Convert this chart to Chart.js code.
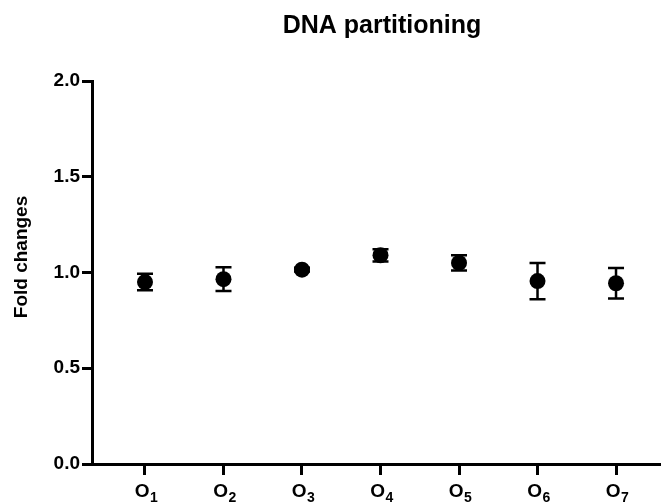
<!DOCTYPE html>
<html>
<head>
<meta charset="utf-8">
<script src="https://cdn.jsdelivr.net/npm/chart.js@4/dist/chart.umd.min.js"></script>
<style>
html,body{margin:0;padding:0;background:#fff;}
#wrap{width:661px;height:504px;}
</style>
</head>
<body>
<div id="wrap"><canvas id="c" width="661" height="504"></canvas></div>
<script>
// ---- data ----
const categories = ["O1","O2","O3","O4","O5","O6","O7"];
const labelBase = ["O","O","O","O","O","O","O"];
const labelSub = ["1","2","3","4","5","6","7"];
const foldMeans = [0.950, 0.965, 1.015, 1.090, 1.050, 0.955, 0.944];
const foldErrors = [0.043, 0.062, 0.010, 0.032, 0.040, 0.095, 0.080];
const yTicks = [0.0, 0.5, 1.0, 1.5, 2.0];
const chartTitle = "DNA partitioning";
const yTitle = "Fold changes";

const FONT = "'Liberation Sans', Arial, Helvetica, sans-serif";

const points = categories.map((c, i) => ({x: i + 1, y: foldMeans[i]}));

const errorBars = {
  id: 'errorBars',
  beforeDatasetsDraw(chart) {
    const ctx = chart.ctx, xs = chart.scales.x, ys = chart.scales.y;
    ctx.save();
    ctx.strokeStyle = '#000';
    ctx.lineWidth = 2.5;
    categories.forEach((c, i) => {
      const px = xs.getPixelForValue(i + 1);
      const top = ys.getPixelForValue(foldMeans[i] + foldErrors[i]);
      const bot = ys.getPixelForValue(foldMeans[i] - foldErrors[i]);
      ctx.beginPath();
      ctx.moveTo(px, top); ctx.lineTo(px, bot);
      ctx.moveTo(px - 8, top); ctx.lineTo(px + 8, top);
      ctx.moveTo(px - 8, bot); ctx.lineTo(px + 8, bot);
      ctx.stroke();
    });
    ctx.restore();
  }
};

const texts = {
  id: 'texts',
  afterDraw(chart) {
    const ctx = chart.ctx, xs = chart.scales.x;
    ctx.save();
    ctx.fillStyle = '#000';
    // title
    ctx.font = "bold 25px " + FONT;
    ctx.textAlign = 'center';
    ctx.textBaseline = 'alphabetic';
    ctx.fillText(chartTitle, 382, 33);
    // y title
    ctx.save();
    ctx.translate(22, 257);
    ctx.rotate(-Math.PI / 2);
    ctx.textBaseline = 'middle';
    ctx.font = "bold 19px " + FONT;
    ctx.fillText(yTitle, 0, 0);
    ctx.restore();
    // x tick labels with subscripts
    ctx.textAlign = 'left';
    ctx.textBaseline = 'alphabetic';
    categories.forEach((c, i) => {
      const px = xs.getPixelForValue(i + 1);
      ctx.font = "bold 19px " + FONT;
      const wb = ctx.measureText(labelBase[i]).width;
      ctx.font = "bold 14px " + FONT;
      const ws = ctx.measureText(labelSub[i]).width;
      const x0 = px - (wb + ws) / 2 + 1;
      ctx.font = "bold 19px " + FONT;
      ctx.fillText(labelBase[i], x0, 497);
      ctx.font = "bold 14px " + FONT;
      ctx.fillText(labelSub[i], x0 + wb + 0.5, 502);
    });
    ctx.restore();
  }
};

function zeroPad(s) { s.paddingLeft = 0; s.paddingRight = 0; s.paddingTop = 0; s.paddingBottom = 0; }

new Chart(document.getElementById('c'), {
  type: 'scatter',
  data: {
    datasets: [{
      data: points,
      backgroundColor: '#000',
      borderColor: '#000',
      borderWidth: 0,
      pointRadius: 8,
      pointHoverRadius: 8
    }]
  },
  options: {
    responsive: false,
    animation: false,
    events: [],
    layout: {autoPadding: false, padding: {top: 81, right: 0, left: 0, bottom: 0}},
    plugins: {legend: {display: false}, tooltip: {enabled: false}, title: {display: false}},
    scales: {
      x: {
        type: 'linear',
        min: 0.325,
        max: 7.573,
        afterBuildTicks: (s) => { s.ticks = categories.map((c, i) => ({value: i + 1})); },
        afterFit: (s) => { s.height = 40; zeroPad(s); },
        ticks: {callback: () => '', padding: 0, autoSkip: false, maxRotation: 0},
        grid: {display: true, drawOnChartArea: false, drawTicks: true, tickLength: 11, tickColor: '#000', tickWidth: 3},
        border: {display: true, color: '#000', width: 3}
      },
      y: {
        min: 0,
        max: 2,
        afterBuildTicks: (s) => { s.ticks = yTicks.map(v => ({value: v})); },
        afterFit: (s) => { s.width = 92; zeroPad(s); },
        ticks: {
          callback: (v) => Number(v).toFixed(1),
          color: '#000',
          padding: 2,
          font: {family: FONT, size: 19, weight: 'bold'}
        },
        grid: {display: true, drawOnChartArea: false, drawTicks: true, tickLength: 10, tickColor: '#000', tickWidth: 3},
        border: {display: true, color: '#000', width: 3}
      }
    }
  },
  plugins: [errorBars, texts]
});
</script>
</body>
</html>
